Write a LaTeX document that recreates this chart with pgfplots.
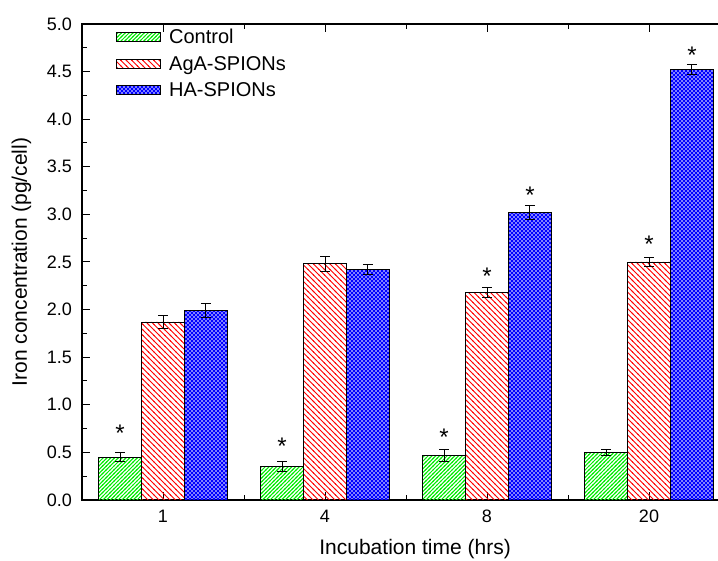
\documentclass[border=0pt]{standalone}
\usepackage{fontspec}
\setmainfont{Liberation Sans}
\usepackage{pgfplots}
\pgfplotsset{compat=1.18}
\usetikzlibrary{patterns}
\pgfdeclarepatternformonly{greenlines}{\pgfqpoint{-1bp}{-1bp}}{\pgfqpoint{4.8bp}{4.8bp}}{\pgfqpoint{3.8bp}{3.8bp}}{%
  \pgfsetlinewidth{1bp}%
  \pgfpathmoveto{\pgfqpoint{-0.6bp}{-0.6bp}}\pgfpathlineto{\pgfqpoint{4.4bp}{4.4bp}}\pgfusepath{stroke}}
\pgfdeclarepatternformonly{redlines}{\pgfqpoint{-1bp}{-1bp}}{\pgfqpoint{6.5bp}{6.5bp}}{\pgfqpoint{5.5bp}{5.5bp}}{%
  \pgfsetlinewidth{1bp}%
  \pgfpathmoveto{\pgfqpoint{-0.6bp}{6.1bp}}\pgfpathlineto{\pgfqpoint{6.1bp}{-0.6bp}}\pgfusepath{stroke}}
\pgfdeclarepatternformonly{bluecross}{\pgfqpoint{-1bp}{-1bp}}{\pgfqpoint{5bp}{5bp}}{\pgfqpoint{4bp}{4bp}}{%
  \pgfsetlinewidth{1.15bp}%
  \pgfpathmoveto{\pgfqpoint{-0.6bp}{-0.6bp}}\pgfpathlineto{\pgfqpoint{4.6bp}{4.6bp}}%
  \pgfpathmoveto{\pgfqpoint{-0.6bp}{4.6bp}}\pgfpathlineto{\pgfqpoint{4.6bp}{-0.6bp}}\pgfusepath{stroke}}
\begin{document}
\begin{tikzpicture}
\path[use as bounding box] (0,0) rectangle (718bp,561bp);
\begin{axis}[
  at={(82bp,61bp)}, anchor=south west,
  scale only axis, width=648bp, height=476bp,
  xmin=-0.5, xmax=3.5, ymin=0, ymax=5,
  ybar, bar width=0.265, bar shift=0,
  xtick={0,1,2,3}, xticklabels={1,4,8,20},
  minor xtick={0.5,1.5,2.5},
  ytick={0,0.5,...,5}, minor y tick num=1,
  ytick pos=left, xtick pos=both,
  tick align=inside,
  major tick length=8bp, minor tick length=5bp,
  every tick/.style={black, line width=1bp},
  axis line style={black, line width=1.2bp},
  /pgf/number format/assume math mode=true,
  yticklabel style={/pgf/number format/.cd, fixed, fixed zerofill, precision=1},
  tick label style={font=\fontsize{18bp}{20bp}\selectfont, inner sep=0pt},
  yticklabel shift=10bp, xticklabel shift=10bp,
  xlabel={Incubation time (hrs)},
  ylabel={Iron concentration (pg/cell)},
  label style={font=\fontsize{21bp}{24bp}\selectfont},
  xlabel style={at={(axis description cs:0.514,-0.1155)}, anchor=base},
  ylabel style={at={(axis description cs:-0.0934,0.5)}, anchor=center},
  legend style={at={(axis description cs:0.048,0.998)}, anchor=north west, draw=none, fill=none,
    font=\fontsize{20bp}{22bp}\selectfont, row sep=7bp,
    /tikz/every odd column/.append style={column sep=6bp}},
  legend cell align=left,
  legend image code/.code={\draw[#1, line width=0.9bp] (0bp,-4.5bp) rectangle (44bp,4.5bp);},
  error bars/y dir=both, error bars/y explicit,
  error bars/error bar style={black, line width=0.9bp},
  error bars/error mark options={rotate=90, black, mark size=5bp, line width=0.9bp},
]
\addplot[draw=black, line width=0.9bp, pattern=greenlines, pattern color={rgb,255:red,0;green,235;blue,0}]
  coordinates {(-0.265,0.45) +- (0,0.05) (0.735,0.35) +- (0,0.05) (1.735,0.47) +- (0,0.06) (2.735,0.50) +- (0,0.03)};
\addlegendentry{Control}
\addplot[draw=black, line width=0.9bp, pattern=redlines, pattern color=red]
  coordinates {(0,1.87) +- (0,0.07) (1,2.48) +- (0,0.08) (2,2.18) +- (0,0.05) (3,2.50) +- (0,0.05)};
\addlegendentry{AgA-SPIONs}
\addplot[draw=black, line width=0.9bp, pattern=bluecross, pattern color=blue]
  coordinates {(0.265,1.99) +- (0,0.07) (1.265,2.42) +- (0,0.05) (2.265,3.02) +- (0,0.07) (3.265,4.52) +- (0,0.05)};
\addlegendentry{HA-SPIONs}
\begin{scope}[every node/.style={anchor=base, inner sep=0pt, font=\fontsize{24bp}{26bp}\selectfont}]
\node at (axis cs:-0.265,0.61) {*};
\node at (axis cs:0.735,0.475) {*};
\node at (axis cs:1.735,0.575) {*};
\node at (axis cs:2,2.265) {*};
\node at (axis cs:2.265,3.115) {*};
\node at (axis cs:3,2.595) {*};
\node at (axis cs:3.265,4.59) {*};
\end{scope}
\end{axis}
\end{tikzpicture}
\end{document}
